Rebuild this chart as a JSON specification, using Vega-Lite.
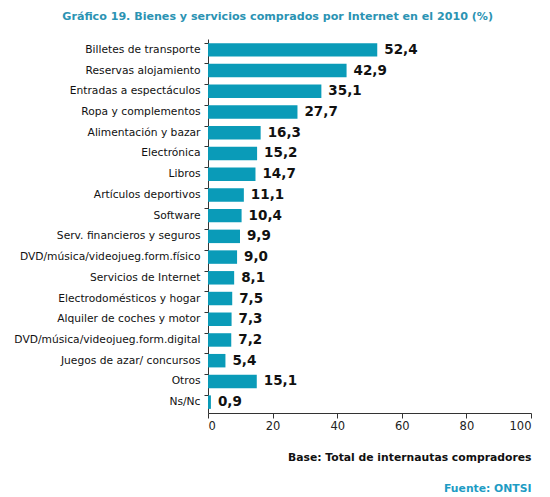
{
  "$schema": "https://vega.github.io/schema/vega-lite/v6.json",
  "width": 550,
  "height": 497,
  "autosize": {"type": "fit", "contains": "padding"},
  "padding": {"left": 13, "right": 18, "top": 10, "bottom": 4},
  "title": {
    "text": "Gráfico 19. Bienes y servicios comprados por Internet en el 2010 (%)",
    "anchor": "middle",
    "frame": "bounds",
    "dx": 5,
    "color": "#2b93b3",
    "font": "DejaVu Sans",
    "fontSize": 11.1,
    "fontWeight": "bold",
    "offset": 17
  },
  "data": {
    "values": [
      {"item": "Billetes de transporte", "pct": 52.4},
      {"item": "Reservas alojamiento", "pct": 42.9},
      {"item": "Entradas a espectáculos", "pct": 35.1},
      {"item": "Ropa y complementos", "pct": 27.7},
      {"item": "Alimentación y bazar", "pct": 16.3},
      {"item": "Electrónica", "pct": 15.2},
      {"item": "Libros", "pct": 14.7},
      {"item": "Artículos deportivos", "pct": 11.1},
      {"item": "Software", "pct": 10.4},
      {"item": "Serv. financieros y seguros", "pct": 9.9},
      {"item": "DVD/música/videojueg.form.físico", "pct": 9.0},
      {"item": "Servicios de Internet", "pct": 8.1},
      {"item": "Electrodomésticos y hogar", "pct": 7.5},
      {"item": "Alquiler de coches y motor", "pct": 7.3},
      {"item": "DVD/música/videojueg.form.digital", "pct": 7.2},
      {"item": "Juegos de azar/ concursos", "pct": 5.4},
      {"item": "Otros", "pct": 15.1},
      {"item": "Ns/Nc", "pct": 0.9}
    ]
  },
  "encoding": {
    "y": {
      "field": "item",
      "type": "nominal",
      "sort": null,
      "title": null,
      "scale": {"paddingInner": 0.35, "paddingOuter": 0.2},
      "axis": {
        "bandPosition": 0,
        "labelFont": "DejaVu Sans",
        "labelFontSize": 10.7,
        "labelColor": "#111",
        "labelPadding": 4,
        "labelLimit": 300,
        "tickSize": 4,
        "tickColor": "#333",
        "domainColor": "#333"
      }
    }
  },
  "layer": [
    {
      "mark": {"type": "bar", "color": "#0a9bb8"},
      "encoding": {
        "x": {
          "field": "pct",
          "type": "quantitative",
          "scale": {"domain": [0, 100]},
          "title": "Base: Total de internautas compradores",
          "axis": {
            "orient": "bottom",
            "values": [0, 20, 40, 60, 80, 100],
            "grid": false,
            "labelFont": "DejaVu Sans",
            "labelFontSize": 11.5,
            "labelColor": "#222",
            "tickColor": "#333",
            "domainColor": "#333",
            "tickSize": 5,
            "titleAnchor": "end",
            "titleFont": "DejaVu Sans",
            "titleFontSize": 10.8,
            "titleFontWeight": "bold",
            "titleColor": "#111",
            "titlePadding": 20
          }
        }
      }
    },
    {
      "mark": {"type": "text", "align": "left", "dx": 7, "font": "DejaVu Sans", "fontSize": 13.5, "fontWeight": "bold", "color": "#111"},
      "encoding": {
        "x": {
          "field": "pct",
          "type": "quantitative",
          "scale": {"domain": [0, 100]},
          "title": "Fuente: ONTSI",
          "axis": {
            "orient": "bottom",
            "domain": false,
            "ticks": false,
            "labels": false,
            "grid": false,
            "titleAnchor": "end",
            "titleFont": "DejaVu Sans",
            "titleFontSize": 10.8,
            "titleFontWeight": "bold",
            "titleColor": "#1e9cc4",
            "titlePadding": 69
          }
        },
        "text": {"field": "pct", "type": "quantitative", "format": ".1f"}
      }
    }
  ],
  "resolve": {"axis": {"x": "independent"}},
  "config": {
    "view": {"stroke": null},
    "locale": {"number": {"decimal": ",", "thousands": ".", "grouping": [3], "currency": ["", " €"]}}
  }
}
